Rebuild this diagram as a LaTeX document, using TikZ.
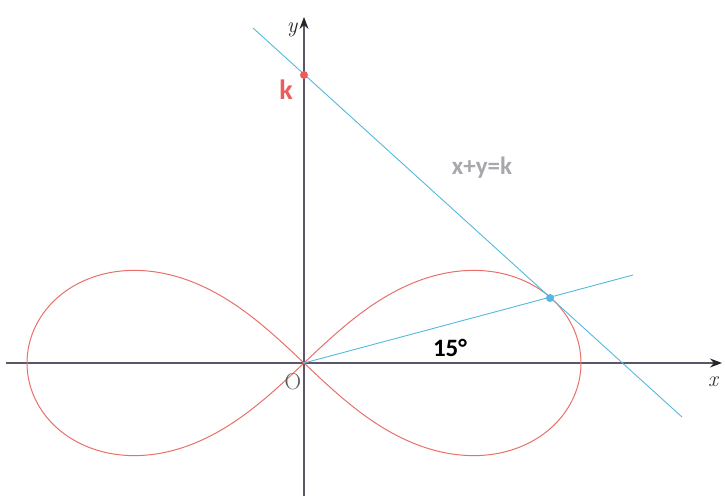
\documentclass[tikz,border=0pt]{standalone}
\usepackage{fontspec}
\newfontfamily\labelfont{Carlito}
\usetikzlibrary{arrows,arrows.meta}
\definecolor{curvered}{RGB}{232,112,104}
\definecolor{lineblue}{RGB}{84,184,222}
\definecolor{axisgray}{RGB}{92,86,104}
\definecolor{kred}{RGB}{236,92,92}
\definecolor{eqgray}{RGB}{168,168,172}
\tikzset{
  axis/.style={color=axisgray,line width=1.1pt,-{Stealth[length=12pt,width=9pt,color=black!85]}},
  blueline/.style={color=lineblue,line width=.9pt},
  dot/.style={circle,inner sep=0pt,minimum size=8pt}
}

\begin{document}
\begin{tikzpicture}[x=1pt,y=1pt]
\useasboundingbox (-304,-133) rectangle (421,363);

\coordinate (O) at (0,0);
\coordinate (K) at (0,288);
\coordinate (P) at (246,65);
\coordinate (T1) at (-51,335);
\coordinate (T2) at (378,-54);
\coordinate (R) at (329,88);
\coordinate (XL) at (-298,0);
\coordinate (XR) at (418,0);
\coordinate (YB) at (0,-133);
\coordinate (YT) at (0,346);

% axes
\draw[axis] (XL) -- (XR);
\draw[axis] (YB) -- (YT);

% lemniscate
\draw[color=curvered,line width=1pt,smooth,samples=240,domain=0:360] plot ({277*cos(\x)/(1+sin(\x)^2)}, {262*sin(\x)*cos(\x)/(1+sin(\x)^2)});

% ray at 15 degrees and the tangent x+y=k
\draw[blueline] (O) -- (R);
\draw[blueline] (T1) -- (T2);

\node[dot,fill=kred] (kdot) at (K) {};
\node[dot,fill=lineblue] (pdot) at (P) {};

\node[color=black!85,font=\fontsize{22}{22}\selectfont\itshape] (ylab) at (-12,333) {y};
\node[color=black!80,font=\fontsize{22}{22}\selectfont\itshape] (xlab) at (409,-19) {x};
\node[color=black!65,font=\fontsize{23}{23}\selectfont] (olab) at (-11,-19) {O};
\node[color=kred,font=\labelfont\bfseries\fontsize{28}{28}\selectfont] (klab) at (-18,273) {k};
\node[color=eqgray,font=\labelfont\bfseries\fontsize{25}{25}\selectfont] (eqlab) at (178,195) {x+y=k};
\node[color=black,font=\labelfont\bfseries\fontsize{25}{25}\selectfont] (anglab) at (146,15) {15°};

\end{tikzpicture}
\end{document}
